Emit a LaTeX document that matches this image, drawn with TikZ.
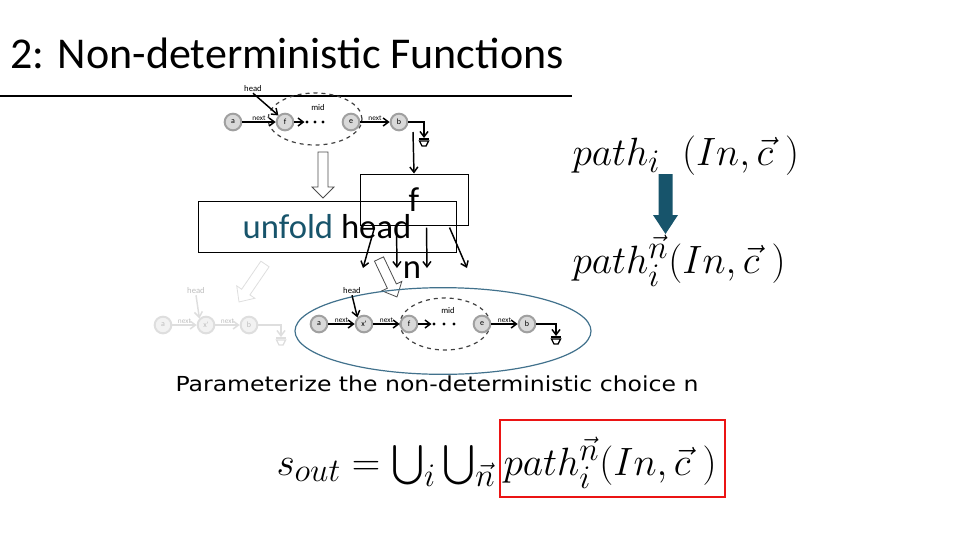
\documentclass[tikz,border=0pt]{standalone}
\usepackage{amsmath}
\usepackage{fontspec}
\newfontfamily\slidefont{Carlito}
\newfontfamily\gothfont[FakeStretch=1.14]{DejaVu Sans}
\usetikzlibrary{arrows.meta,calc,shapes.geometric}

\definecolor{unfoldteal}{RGB}{23,84,107}
\definecolor{ovalblue}{RGB}{65,113,140}
\definecolor{nodefill}{RGB}{217,217,217}
\definecolor{nodeedge}{RGB}{160,160,160}
\definecolor{fadefill}{RGB}{242,242,242}
\definecolor{fadeedge}{RGB}{222,222,222}
\definecolor{fadetext}{RGB}{190,190,190}
\definecolor{boxred}{RGB}{235,20,20}

\tikzset{every picture/.style={line width=0.75pt}}
\tikzset{
  lnode/.style={circle, draw=nodeedge, fill=nodefill, line width=1.5pt, minimum size=12.5pt, inner sep=0pt, font=\slidefont\fontsize{6}{7}\selectfont},
  fnode/.style={lnode, draw=fadeedge, fill=fadefill, text=fadetext},
  link/.style={line width=1.1pt, -{Straight Barb[length=4pt,width=6pt]}},
  flink/.style={link, draw=fadeedge},
  nextlbl/.style={above, inner sep=0.5pt, font=\slidefont\fontsize{5.5}{6}\selectfont},
  smalllbl/.style={inner sep=0.5pt, font=\slidefont\fontsize{6.5}{7}\selectfont},
  midoval/.style={ellipse, draw=black!75, dashed, line width=0.9pt},
  bigtxt/.style={inner sep=0pt, font=\slidefont\fontsize{26}{30}\selectfont},
  mathtxt/.style={inner sep=0pt, anchor=base west, font=\fontsize{24.88}{30}\selectfont}
}
\newcommand{\bigmath}[1]{\scalebox{1.19}{#1}}

\begin{document}
\begin{tikzpicture}[x=0.75pt,y=0.75pt,yscale=-1,xscale=1]
\useasboundingbox (0,0) rectangle (960,540);

% Text Node
\node (title) [anchor=base west, inner sep=0pt, font=\slidefont\fontsize{33}{38}\selectfont] at (10,68) {2: Non-deterministic Functions};
%Straight Lines
\draw [line width=1.5pt] (0,96) -- (572,96);

%List before unfolding
\node (tmid) [midoval, minimum width=70.5pt, minimum height=39pt] at (315,119) {};
\node (tmidl) [smalllbl] at (318,108) {mid};
\node (ta) [lnode] at (233,122) {a};
\node (tf) [lnode] at (285,122) {f};
\node (tdots) [inner sep=0pt, minimum width=15pt, minimum height=4pt] at (315,122) {};
\foreach \d in {-8,0,8} {\fill (tdots.center) ++(\d,0) circle (1.7);}
\node (te) [lnode] at (351,122) {e};
\node (tb) [lnode] at (399,122) {b};
\node (thead) [smalllbl] at (253,89) {head};
\coordinate (tgnd) at (424,138);
\draw [link] (ta) -- node [nextlbl] {next} (tf);
\draw [link] (tf) -- (tdots.west);
\draw [link] (te) -- node [nextlbl] {next} (tb);
\draw [link] (thead.south) -- (tf.north west);
\draw [link] (tb.east) -| (tgnd);
\draw [line width=1pt] (tgnd) ++(-5,1) -- ++(10,0);
\draw [line width=1pt] (tgnd) ++(-4.5,3) -- ++(9,0) -- ++(-2.5,5) -- ++(-4,0) -- cycle;

%Block Arrow: unfold
\draw [line width=0.6pt, draw=black!70, shift={(323,152)}, rotate=90] (0,-5) -- (35,-5) -- (35,-11) -- (46,0) -- (35,11) -- (35,5) -- (0,5) -- cycle;

% Box: f
\node (fbox) [draw, minimum width=81pt, minimum height=38.25pt, bigtxt] at (414,199.5) {f};
\coordinate (fin) at (413,132);
\draw [link] (fin) -- (fbox.north);

% Box: unfold head
\node (ubox) [draw, minimum width=193.5pt, minimum height=38.25pt, bigtxt] at (327,226.5) {\textcolor{unfoldteal}{unfold} head};

% Arrows out of f
\coordinate (o1) at (363,268);
\coordinate (o2) at (397,268);
\coordinate (o3) at (427,268);
\coordinate (o4) at (467,268);
\draw [link] ($(fbox.south west)+(15,2)$) -- (o1);
\draw [link] ($(fbox.south west)+(37,2)$) -- (o2);
\draw [link] ($(fbox.south west)+(67,2)$) -- (o3);
\draw [link] ($(fbox.south west)+(90,2)$) -- (o4);
\node (nlbl) [bigtxt] at (412,270) {n};

%Block Arrow: faded
\draw [line width=0.6pt, draw=fadeedge, shift={(265,264)}, rotate=124.4] (0,-5) -- (34,-5) -- (34,-11) -- (46,0) -- (34,11) -- (34,5) -- (0,5) -- cycle;
%Block Arrow: chosen
\draw [line width=0.6pt, draw=black!70, fill=white, shift={(379,259)}, rotate=64.6] (0,-5) -- (30,-5) -- (30,-11) -- (42,0) -- (30,11) -- (30,5) -- (0,5) -- cycle;

%Faded list
\node (fa) [fnode] at (163,325) {a};
\node (fx) [fnode] at (206,325) {x'};
\node (fb) [fnode] at (249,325) {b};
\node (fhead) [smalllbl, text=fadetext] at (196,291) {head};
\coordinate (fgnd) at (281,337);
\draw [flink] (fa) -- node [nextlbl, text=fadetext] {next} (fx);
\draw [flink] (fx) -- node [nextlbl, text=fadetext] {next} (fb);
\draw [flink] (fhead.south) -- (fx.north west);
\draw [flink] (fb.east) -| (fgnd);
\draw [line width=1pt, draw=fadeedge] (fgnd) ++(-5,1) -- ++(10,0);
\draw [line width=1pt, draw=fadeedge] (fgnd) ++(-4.5,3) -- ++(9,0) -- ++(-2.5,5) -- ++(-4,0) -- cycle;

%List after unfolding
\node (boval) [ellipse, draw=ovalblue, line width=0.9pt, minimum width=222pt, minimum height=65pt] at (443,331) {};
\node (bmid) [midoval, minimum width=67.5pt, minimum height=39pt] at (445,324) {};
\node (bmidl) [smalllbl] at (448,311) {mid};
\node (ba) [lnode] at (319,324) {a};
\node (bx) [lnode] at (364,324) {x'};
\node (bf) [lnode] at (409,324) {f};
\node (bdots) [inner sep=0pt, minimum width=18pt, minimum height=4pt] at (444,324) {};
\foreach \d in {-10,0,10} {\fill (bdots.center) ++(\d,0) circle (1.7);}
\node (be) [lnode] at (482,324) {e};
\node (bb) [lnode] at (527,324) {b};
\node (bhead) [smalllbl] at (352,291) {head};
\coordinate (bgnd) at (556,336);
\draw [link] (ba) -- node [nextlbl] {next} (bx);
\draw [link] (bx) -- node [nextlbl] {next} (bf);
\draw [link] (bf) -- (bdots.west);
\draw [link] (be) -- node [nextlbl] {next} (bb);
\draw [link] (bhead.south) -- (bx.north west);
\draw [link] (bb.east) -| (bgnd);
\draw [line width=1pt] (bgnd) ++(-5,1) -- ++(10,0);
\draw [line width=1pt] (bgnd) ++(-4.5,3) -- ++(9,0) -- ++(-2.5,5) -- ++(-4,0) -- cycle;

% Right formulas
\node (pathi) [mathtxt] at (572,165) {\bigmath{$path_i\;\;(In,\vec{c}\ )$}};
\node (pathn) [mathtxt] at (572,273) {\bigmath{$path_i^{\vec{n}}(In,\vec{c}\ )$}};
%Block Arrow: teal
\fill [unfoldteal, shift={(665.5,174)}, rotate=90] (0,-7) -- (41,-7) -- (41,-12.5) -- (60,0) -- (41,12.5) -- (41,7) -- (0,7) -- cycle;

% Text Node
\node (param) [inner sep=0pt, anchor=base west, font=\gothfont\fontsize{15.5}{18}\selectfont] at (175,391) {Parameterize the non-deterministic choice n};

% Bottom formula
\node (sout) [mathtxt, anchor=base east] at (496,475) {\bigmath{$s_{out}=\bigcup_i\bigcup_{\vec{n}}$}};
\node (spath) [mathtxt] at (503,475) {\bigmath{$path_i^{\vec{n}}(In,\vec{c}\ )$}};
\draw [boxred, line width=2pt] (500,420) rectangle (725,497);

\end{tikzpicture}
\end{document}
